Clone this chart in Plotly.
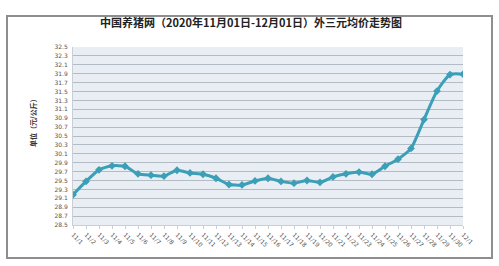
import plotly.graph_objects as go

dates = ["11/1", "11/2", "11/3", "11/4", "11/5", "11/6", "11/7", "11/8", "11/9", "11/10",
         "11/11", "11/12", "11/13", "11/14", "11/15", "11/16", "11/17", "11/18", "11/19", "11/20",
         "11/21", "11/22", "11/23", "11/24", "11/25", "11/26", "11/27", "11/28", "11/29", "11/30", "12/1"]
prices = [29.18, 29.48, 29.74, 29.83, 29.82, 29.65, 29.62, 29.60, 29.73, 29.67,
          29.64, 29.55, 29.41, 29.40, 29.49, 29.55, 29.48, 29.44, 29.50, 29.46,
          29.58, 29.65, 29.69, 29.64, 29.82, 29.98, 30.22, 30.87, 31.51, 31.88, 31.89]
y_ticks = [round(28.5 + 0.2 * i, 1) for i in range(21)]

title = "中国养猪网（2020年11月01日-12月01日）外三元均价走势图"
y_label = "单位（元/公斤）"

W, H = 499, 266
l, r, t, b = 73, 36, 47, 41
pw, ph = W - l - r, H - t - b
def px(x):
    return (x - l) / pw
def py(y):
    return (H - b - y) / ph

fig = go.Figure()
fig.add_trace(go.Scatter(
    x=list(range(len(dates))), y=prices, mode="lines+markers",
    line=dict(color="#3a9fb7", width=3, shape="spline", smoothing=0.6),
    marker=dict(symbol="diamond", size=6, color="#3a9fb7"),
    hoverinfo="skip", showlegend=False,
))

fig.update_layout(
    width=W, height=H,
    margin=dict(l=l, r=r, t=t, b=b),
    paper_bgcolor="white", plot_bgcolor="#e8eef3",
    font=dict(family="Noto Sans CJK SC", color="#444"),
    xaxis=dict(
        range=[0, len(dates) - 1], tickmode="array",
        tickvals=list(range(len(dates))), ticktext=dates,
        tickangle=45, tickfont=dict(size=6, color="#555", family="DejaVu Sans"),
        showgrid=False, zeroline=False, showline=True, linecolor="#c8cfd6",
        ticks="outside", ticklen=3, tickcolor="#c8cfd6",
    ),
    yaxis=dict(
        range=[28.5, 32.5], tickmode="array", tickvals=y_ticks,
        ticktext=[f"{v:.1f}" for v in y_ticks],
        tickfont=dict(size=6, color="#555", family="DejaVu Sans"),
        showgrid=True, gridcolor="#b3bcc5", gridwidth=1, zeroline=False,
        showline=True, linecolor="#c8cfd6", ticks="", ticklabelstandoff=3,
    ),
    annotations=[
        dict(text=f"<b>{title}</b>", x=px(251), y=py(22), xref="paper", yref="paper",
             showarrow=False, font=dict(size=11, color="#222", family="Noto Sans CJK SC"),
             xanchor="center", yanchor="middle"),
        dict(text=f"<b>{y_label}</b>", x=px(33), y=py(121), xref="paper", yref="paper",
             showarrow=False, textangle=-90, font=dict(size=7, color="#333", family="Noto Sans CJK SC"),
             xanchor="center", yanchor="middle"),
    ],
    shapes=[
        dict(type="rect", xref="paper", yref="paper", x0=px(7), x1=px(492), y0=py(258), y1=py(16),
             line=dict(color="#8e8e8e", width=2), layer="above"),
    ],
)

fig.write_html("out.html")
